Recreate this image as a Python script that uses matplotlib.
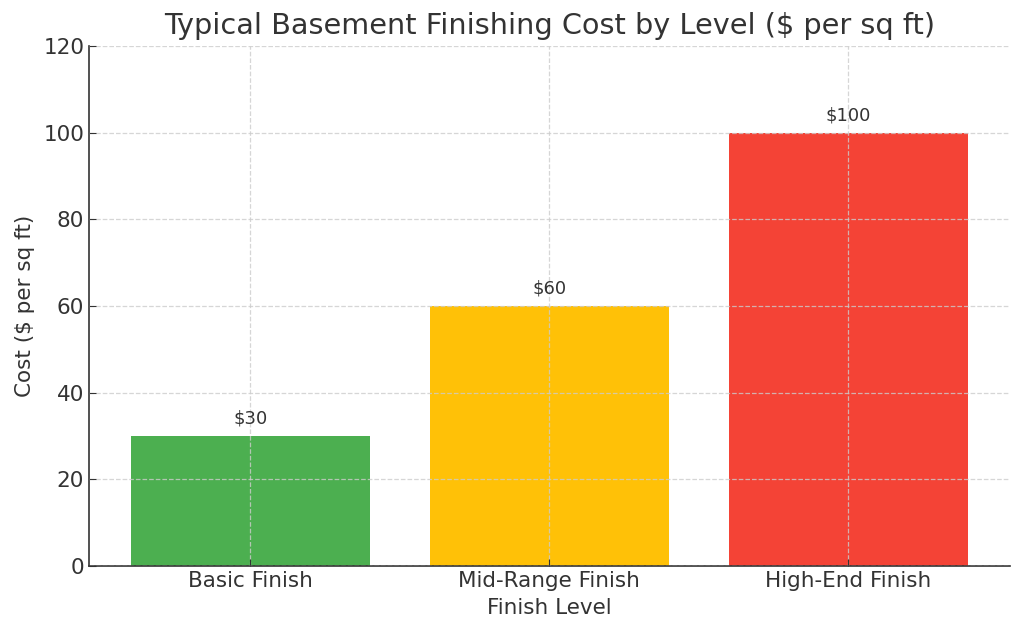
import matplotlib.pyplot as plt

levels = ["Basic Finish", "Mid-Range Finish", "High-End Finish"]
costs = [30, 60, 100]
colors = ["#4CAF50", "#FFC107", "#F44336"]

TEXT = "#333333"


def main():
    plt.rcParams["text.color"] = TEXT
    plt.rcParams["axes.labelcolor"] = TEXT
    plt.rcParams["xtick.color"] = TEXT
    plt.rcParams["ytick.color"] = TEXT

    fig = plt.figure(figsize=(10.24, 6.35), dpi=100)
    ax = fig.add_axes([0.087, 0.109, 0.899, 0.818])

    bars = ax.bar(levels, costs, color=colors, width=0.8)
    for b, v in zip(bars, costs):
        ax.text(b.get_x() + b.get_width() / 2, v + 2, f"${v}",
                ha="center", va="bottom", fontsize=13, color=TEXT)

    ax.set_ylim(0, 120)
    ax.set_title("Typical Basement Finishing Cost by Level ($ per sq ft)",
                 fontsize=20.7, color=TEXT, pad=9)
    ax.set_xlabel("Finish Level", fontsize=15.5, labelpad=5)
    ax.set_ylabel("Cost ($ per sq ft)", fontsize=15.5, labelpad=6)
    ax.tick_params(labelsize=15.5, direction="in", length=5)

    ax.grid(True, linestyle="--", color="#cccccc", alpha=0.8, linewidth=0.9)
    ax.set_axisbelow(False)
    for s in ["top", "right"]:
        ax.spines[s].set_visible(False)
    for s in ["left", "bottom"]:
        ax.spines[s].set_color(TEXT)
        ax.spines[s].set_linewidth(1.2)

    fig.savefig("out.png", dpi=100)


if __name__ == "__main__":
    main()
